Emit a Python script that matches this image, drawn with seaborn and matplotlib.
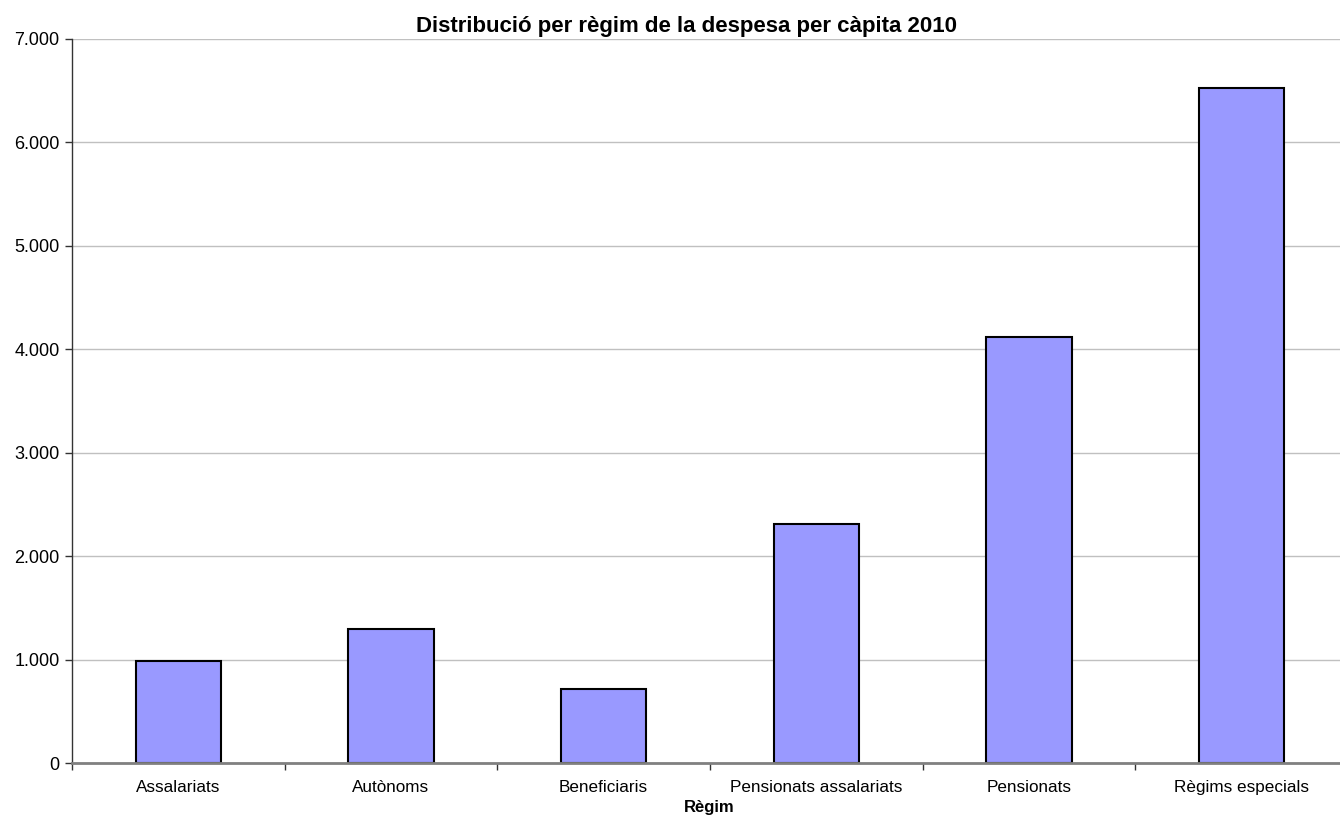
import pandas as pd
import seaborn as sns
import matplotlib.pyplot as plt
from matplotlib.ticker import FuncFormatter, FixedLocator

# Dades llegides del gràfic
regims = ['Assalariats', 'Autònoms', 'Beneficiaris', 'Pensionats assalariats',
          'Pensionats', 'Règims especials']
despesa = [990, 1295, 720, 2305, 4115, 6522]

df = pd.DataFrame({'Règim': regims, 'Despesa': despesa})

sns.set_style('white')
plt.rcParams['font.family'] = ['Liberation Sans', 'DejaVu Sans']
plt.rcParams['text.color'] = 'black'
plt.rcParams['xtick.labelcolor'] = 'black'
plt.rcParams['ytick.labelcolor'] = 'black'

fig = plt.figure(figsize=(13.4, 8.18), dpi=100)
ax = fig.add_axes([72 / 1340, 1 - 763 / 818, 1276 / 1340, (763 - 38.7) / 818])

sns.barplot(data=df, x='Règim', y='Despesa', color='#9999FF', saturation=1,
            width=0.4, edgecolor='black', linewidth=1.5, ax=ax, zorder=3)

ax.set_xlim(-0.5, len(regims) - 0.5)
ax.set_ylim(0, 7000)
ax.set_yticks(range(0, 7001, 1000))
ax.yaxis.set_major_formatter(FuncFormatter(lambda v, p: f'{int(v):,}'.replace(',', '.')))
ax.yaxis.grid(True, color='#c0c0c0', linewidth=1, zorder=0)
ax.xaxis.grid(False)

# ticks a les fronteres de categoria
ax.xaxis.set_major_locator(FixedLocator([i - 0.5 for i in range(len(regims) + 1)]))
ax.xaxis.set_minor_locator(FixedLocator(range(len(regims))))
ax.set_xticklabels([], minor=False)
ax.set_xticklabels(regims, minor=True, fontsize=12.3, color='black')
ax.tick_params(axis='x', which='major', direction='out', length=5, width=1, color='#333333', bottom=True)
ax.tick_params(axis='x', which='minor', length=0, pad=12)
ax.tick_params(axis='y', direction='out', length=5, width=1, color='#333333', left=True,
               labelsize=13, labelcolor='black', pad=4)

for s in ['top', 'right']:
    ax.spines[s].set_visible(False)
ax.spines['left'].set_color('#333333')
ax.spines['left'].set_linewidth(1)
ax.spines['bottom'].set_color('#808080')
ax.spines['bottom'].set_linewidth(2)
ax.spines['bottom'].set_zorder(4)

ax.set_xlabel('')
ax.set_ylabel('')

fig.text(686 / 1340, 1 - 31.7 / 818, 'Distribució per règim de la despesa per càpita 2010',
         ha='center', va='baseline', fontsize=16, fontweight='bold', color='black')
fig.text(709 / 1340, 1 - 812 / 818, 'Règim', ha='center', va='baseline',
         fontsize=12, fontweight='bold', color='black')

fig.savefig('out.png', dpi=100)
